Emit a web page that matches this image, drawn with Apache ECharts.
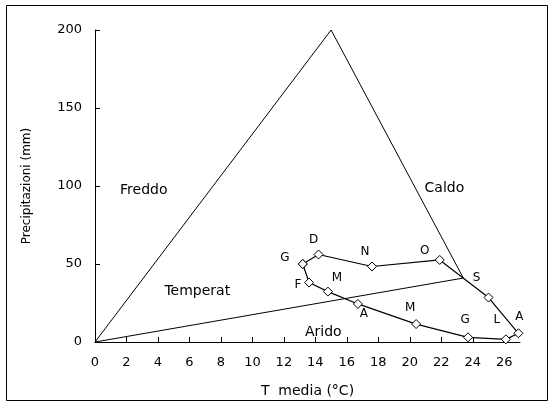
<!DOCTYPE html>
<html><head><meta charset="utf-8">
<script src="https://cdn.jsdelivr.net/npm/echarts@6/dist/echarts.min.js"></script>
<style>html,body{margin:0;padding:0;background:#fff}#c{width:555px;height:412px}</style>
</head><body><div id="c"></div>
<script>
// Monthly climate data (loop order Jan..Dec)
const months = ['G','F','M','A','M','G','L','A','S','O','N','D'];
const tempC = [13.2, 13.6, 14.8, 16.7, 20.4, 23.7, 26.1, 26.9, 25.0, 21.9, 17.6, 14.2];
const precipMm = [50.0, 38.1, 32.3, 24.4, 11.5, 3.0, 1.7, 5.6, 28.5, 52.6, 48.4, 56.1];
// Climate diagram zone boundaries
const boundaryT = [0, 15, 23.4, 0];
const boundaryP = [0, 200, 41, 0];
// Zone names and their anchor points
const zoneNames = ['Freddo', 'Caldo', 'Temperat', 'Arido'];
const zoneT = [3.1, 22.2, 6.5, 14.5];
const zoneP = [97.3, 98.6, 32.5, 6.2];
// Axis ticks
const xTicks = [0, 2, 4, 6, 8, 10, 12, 14, 16, 18, 20, 22, 24, 26];
const yTicks = [0, 50, 100, 150, 200];

// label offsets (layout only)
const labelOffsets = [[-18,-6],[-11,2],[9,-14],[6,10],[-6,-16],[-3,-17],[-9,-19],[1,-16],[-12,-20],[-15,-9],[-7,-15],[-5,-15]];

const FONT = 'DejaVu Sans';
const loop = tempC.map((t, i) => ({
  value: [t, precipMm[i]],
  label: {show: true, formatter: months[i], position: 'inside', offset: labelOffsets[i],
    color: '#000', fontFamily: FONT, fontSize: 12, align: 'center', verticalAlign: 'middle'}
}));
loop.push({value: [tempC[0], precipMm[0]], label: {show: false}});

const chart = echarts.init(document.getElementById('c'), null, {renderer: 'canvas'});
chart.setOption({
  animation: false,
  backgroundColor: '#fff',
  textStyle: {fontFamily: FONT},
  graphic: [{type: 'rect', shape: {x: 6.5, y: 5.5, width: 541, height: 395},
    style: {fill: 'none', stroke: '#000', lineWidth: 1}, silent: true}],
  grid: {left: 95, right: 35, top: 30, bottom: 70, containLabel: false},
  xAxis: {
    type: 'value', min: 0, max: 27, interval: 2,
    name: 'T  media (°C)', nameLocation: 'middle', nameGap: 42,
    nameTextStyle: {color: '#000', fontSize: 14, fontFamily: FONT},
    axisLine: {show: true, onZero: false, lineStyle: {color: '#000', width: 1}},
    axisTick: {show: true, inside: true, length: 5, lineStyle: {color: '#000'}, customValues: xTicks},
    axisLabel: {color: '#000', fontSize: 13, fontFamily: FONT, margin: 14, customValues: xTicks},
    splitLine: {show: false}
  },
  yAxis: {
    type: 'value', min: 0, max: 200, interval: 50,
    name: 'Precipitazioni (mm)', nameLocation: 'middle', nameGap: 62, nameRotate: 90,
    nameTextStyle: {color: '#000', fontSize: 12, fontFamily: FONT},
    axisLine: {show: true, onZero: false, lineStyle: {color: '#000', width: 1}},
    axisTick: {show: true, inside: true, length: 5, lineStyle: {color: '#000'}, customValues: yTicks},
    axisLabel: {color: '#000', fontSize: 13, fontFamily: FONT, margin: 13, customValues: yTicks},
    splitLine: {show: false}
  },
  series: [
    {
      type: 'line', data: boundaryT.map((t, i) => [t, boundaryP[i]]),
      showSymbol: false, symbol: 'none', silent: true,
      lineStyle: {color: '#000', width: 1}, z: 2
    },
    {
      type: 'line', data: loop, symbol: 'diamond', symbolSize: 9,
      itemStyle: {color: '#fff', borderColor: '#000', borderWidth: 1},
      lineStyle: {color: '#000', width: 1.2}, z: 3
    },
    {
      type: 'scatter', symbol: 'circle', symbolSize: 0.1, silent: true,
      itemStyle: {color: '#000', opacity: 1},
      data: zoneNames.map((n, i) => ({value: [zoneT[i], zoneP[i]], name: n})),
      label: {show: true, position: 'inside', formatter: p => p.name, color: '#000', opacity: 1,
        fontFamily: FONT, fontSize: 14, align: 'center', verticalAlign: 'middle'}, z: 4
    }
  ]
});
</script></body></html>
